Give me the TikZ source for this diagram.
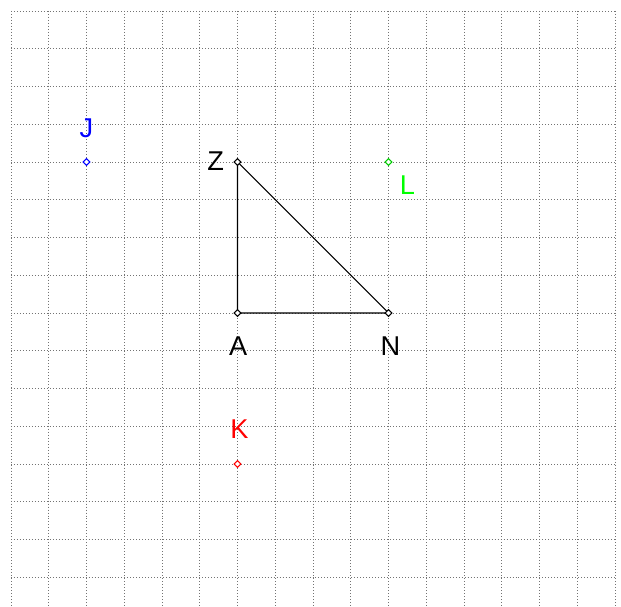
\documentclass[tikz,border=0pt]{standalone}
\usepackage{fontspec}
\setmainfont{Liberation Sans}
\usetikzlibrary{shapes.geometric}
\begin{document}
\begin{tikzpicture}[x=1cm,y=1cm,
  gridline/.style={black!55, line width=0.7pt, dash pattern=on 0.75pt off 1.5pt},
  pt/.style={draw=#1, fill=white, diamond, minimum width=0.19cm, minimum height=0.19cm, inner sep=0pt, line width=0.7pt},
  lbl/.style={text=#1, font=\fontsize{20.5}{24}\selectfont, inner sep=0pt},
  seg/.style={black, line width=0.8pt}]
\useasboundingbox (-0.2914,0.2914) rectangle (16.159,-15.788);
\fill[white] (-0.2914,0.2914) rectangle (16.159,-15.788);
\foreach \i in {0,...,16} \draw[gridline] (\i,0) -- (\i,-15.788);
\foreach \j in {0,...,15} \draw[gridline] (0,-\j) -- (16,-\j);
\coordinate (cZ) at (6,-4);
\coordinate (cA) at (6,-8);
\coordinate (cN) at (10,-8);
\draw[seg] (cZ) -- (cA) -- (cN) -- (cZ);
\node[pt=blue] (J) at (2,-4) {};
\node[pt=black] (Z) at (cZ) {};
\node[pt=green!80!black] (L) at (10,-4) {};
\node[pt=black] (A) at (cA) {};
\node[pt=black] (N) at (cN) {};
\node[pt=red] (K) at (6,-12) {};
\node[lbl=blue] (lJ) at (2.0,-3.1) {J};
\node[lbl=black] (lZ) at (5.42,-3.97) {Z};
\node[lbl=green] (lL) at (10.5,-4.62) {L};
\node[lbl=black] (lA) at (6.02,-8.87) {A};
\node[lbl=black] (lN) at (10.05,-8.87) {N};
\node[lbl=red] (lK) at (6.05,-11.07) {K};
\end{tikzpicture}
\end{document}
